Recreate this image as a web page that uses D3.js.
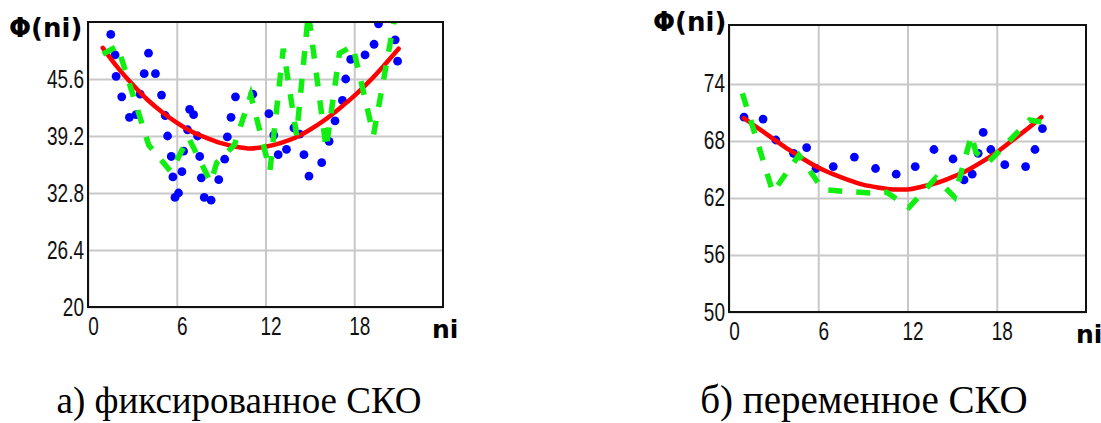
<!DOCTYPE html>
<html>
<head>
<meta charset="utf-8">
<script src="https://cdn.jsdelivr.net/npm/d3@7"></script>
<style>
  body { margin: 0; background: #fff; }
  .grid line { stroke: #c8c8c8; stroke-width: 2; }
  .grid path { display: none; }
  .ticks path { display: none; }
  .ticks text { font-family: "Liberation Sans", Arial, sans-serif; font-size: 25px; fill: #111; }
</style>
</head>
<body>
<div id="holder"></div>
<script>
// shared values
var xTicks = [0, 6, 12, 18];
var fitX = [1, 2, 3, 4, 5, 6, 7, 8, 9, 10, 11, 12, 13, 14, 15, 16, 17, 18, 19, 20, 21];

// a) fixed SKO
var leftYTicks = [20, 26.4, 32.8, 39.2, 45.6];
var leftFit = [49.1, 46.9, 45.0, 43.3, 41.9, 40.7, 39.7, 39.0, 38.4, 38.0, 37.8, 38.0, 38.4, 39.0, 39.9, 41.0, 42.3, 43.7, 45.3, 47.1, 49.0];
var leftDotsX = [1.54, 1.83, 1.90, 2.28, 2.80, 3.25, 3.53, 3.80, 4.09, 4.56, 4.97, 5.22, 5.38, 5.63, 5.74, 5.88, 6.12, 6.35, 6.46, 6.73,
                 6.87, 7.14, 7.41, 7.55, 7.66, 7.86, 8.32, 8.84, 9.24, 9.42, 9.67, 9.97, 11.14, 12.23, 12.56, 12.86, 13.42, 13.92, 14.31, 14.60,
                 14.94, 15.80, 16.30, 16.70, 17.20, 17.42, 17.76, 18.73, 19.34, 19.64, 20.77, 20.93];
var leftDotsY = [50.6, 48.3, 45.9, 43.6, 41.3, 41.6, 43.9, 46.2, 48.5, 46.2, 43.8, 41.5, 39.2, 36.9, 34.6, 32.3, 32.8, 35.2, 37.5, 39.9,
                 42.2, 41.6, 39.2, 36.9, 34.5, 32.3, 32.0, 34.3, 36.6, 39.1, 41.3, 43.6, 43.9, 41.7, 39.3, 37.1, 37.7, 40.1, 39.4, 37.1,
                 34.7, 36.2, 38.6, 40.9, 43.2, 45.6, 47.8, 48.3, 49.5, 51.8, 50.0, 47.6];
var leftNoiseX = [1.0, 2.0, 4.1, 5.6, 6.8, 8.3, 8.7, 9.9, 11.0, 12.3, 13.2, 14.1, 14.9, 16.1, 17.0, 17.9, 19.3, 20.8];
var leftNoiseY = [48.4, 49.3, 38.2, 35.2, 39.0, 34.0, 36.2, 38.2, 43.8, 35.3, 49.0, 39.3, 53.0, 37.8, 48.5, 49.3, 39.3, 53.0];

// b) variable SKO
var rightYTicks = [50, 56, 62, 68, 74];
var rightFit = [70.4, 69.3, 68.2, 67.1, 66.1, 65.2, 64.5, 63.9, 63.4, 63.1, 62.9, 62.9, 63.2, 63.6, 64.2, 64.9, 65.8, 66.8, 68.0, 69.2, 70.5];
var rightDotsX = [1.01, 2.29, 3.15, 4.34, 5.22, 5.85, 7.01, 8.43, 9.85, 11.24, 12.52, 13.78, 15.06, 15.80, 16.35, 16.75, 17.09, 17.60,
                  18.54, 19.94, 20.57, 21.07];
var rightDotsY = [70.5, 70.3, 68.1, 66.7, 67.3, 65.1, 65.3, 66.3, 65.1, 64.5, 65.3, 67.1, 66.1, 63.9, 64.5, 66.7, 68.9, 67.1,
                  65.5, 65.3, 67.1, 69.3];
var rightNoiseX = [0.9, 2.95, 4.7, 6.3, 7.7, 9.8, 10.6, 12.1, 13.9, 15.15, 16.3, 16.6, 17.4, 20.2, 21.0];
var rightNoiseY = [73.0, 62.6, 66.5, 62.9, 62.7, 62.5, 62.6, 61.0, 64.1, 62.1, 68.6, 66.8, 65.7, 70.2, 70.0];

var svg = d3.select("#holder").append("svg")
    .attr("width", 1101)
    .attr("height", 423)
    .style("display", "block");

function squeeze(sel) {
    // the tick font in the picture is narrow
    sel.each(function() {
        var w = this.getComputedTextLength();
        d3.select(this).attr("textLength", w * 0.76).attr("lengthAdjust", "spacingAndGlyphs");
    });
}

function drawChart(c) {
    var width = c.right - c.left,
        height = c.bottom - c.top;

    var g = svg.append("g")
        .attr("transform", "translate(" + c.left + "," + c.top + ")");

    var x = d3.scaleLinear().domain([0, 24]).range([0, width]);
    var y = d3.scaleLinear().domain(c.yDomain).range([height, 0]);

    // grid
    g.append("g")
        .attr("class", "grid")
        .call(d3.axisLeft(y).tickValues(c.yTicks).tickSize(-width).tickFormat(""));
    g.append("g")
        .attr("class", "grid")
        .attr("transform", "translate(0," + height + ")")
        .call(d3.axisBottom(x).tickValues(xTicks).tickSize(-height).tickFormat(""));

    // tick labels
    g.append("g")
        .attr("class", "ticks")
        .call(d3.axisLeft(y).tickValues(c.yTicks).tickSize(0).tickPadding(4).tickFormat(d3.format("")))
        .selectAll("text").call(squeeze);
    g.append("g")
        .attr("class", "ticks")
        .attr("transform", "translate(0," + height + ")")
        .call(d3.axisBottom(x).tickValues(xTicks).tickSize(0).tickPadding(10))
        .selectAll("text").attr("x", 5).call(squeeze);

    var clipId = "clip" + c.left;
    g.append("clipPath").attr("id", clipId)
        .append("rect").attr("width", width).attr("height", height);

    var plot = g.append("g").attr("clip-path", "url(#" + clipId + ")");

    // blue points
    plot.selectAll(".dot")
        .data(c.dotsX)
        .enter().append("circle")
        .attr("class", "dot")
        .attr("cx", function(d) { return x(d); })
        .attr("cy", function(d, i) { return y(c.dotsY[i]); })
        .attr("r", 4.4)
        .style("fill", "#0000ff");

    // red fitted curve
    var fitLine = d3.line()
        .x(function(d) { return x(d); })
        .y(function(d, i) { return y(c.fit[i]); })
        .curve(d3.curveMonotoneX);
    plot.append("path")
        .datum(fitX)
        .attr("d", fitLine)
        .style("fill", "none")
        .style("stroke", "#ff0000")
        .style("stroke-width", 4.5)
        .style("stroke-linecap", "round");

    // green dashed line
    var noiseLine = d3.line()
        .x(function(d) { return x(d); })
        .y(function(d, i) { return y(c.noiseY[i]); });
    plot.append("path")
        .datum(c.noiseX)
        .attr("d", noiseLine)
        .style("fill", "none")
        .style("stroke", "#11ee11")
        .style("stroke-width", 5.5)
        .style("stroke-dasharray", "14,14");

    // frame
    g.append("rect")
        .attr("width", width)
        .attr("height", height)
        .style("fill", "none")
        .style("stroke", "#111")
        .style("stroke-width", 2);

    // axis titles
    svg.append("text")
        .attr("x", c.yLabel[0]).attr("y", c.yLabel[1])
        .style("font-family", "'DejaVu Sans', sans-serif")
        .style("font-weight", "bold")
        .style("font-size", "26px")
        .text("Φ(ni)");
    svg.append("text")
        .attr("x", c.xLabel[0]).attr("y", c.xLabel[1])
        .style("font-family", "'DejaVu Sans', sans-serif")
        .style("font-weight", "bold")
        .style("font-size", "25px")
        .text("ni");

    // caption
    svg.append("text")
        .attr("x", c.caption[0]).attr("y", c.caption[1])
        .style("font-family", "'Liberation Serif', 'Times New Roman', serif")
        .style("font-size", c.caption[3] + "px")
        .style("text-anchor", "middle")
        .text(c.caption[2]);
}

drawChart({
    left: 88, right: 443, top: 22, bottom: 307,
    yDomain: [20, 52], yTicks: leftYTicks,
    fit: leftFit, dotsX: leftDotsX, dotsY: leftDotsY,
    noiseX: leftNoiseX, noiseY: leftNoiseY,
    yLabel: [9, 37], xLabel: [432, 338],
    caption: [239, 413, "а) фиксированное СКО", 37]
});

drawChart({
    left: 729, right: 1086, top: 25, bottom: 312,
    yDomain: [50, 80.2], yTicks: rightYTicks,
    fit: rightFit, dotsX: rightDotsX, dotsY: rightDotsY,
    noiseX: rightNoiseX, noiseY: rightNoiseY,
    yLabel: [653, 31], xLabel: [1076, 343],
    caption: [864, 413, "б) переменное СКО", 39]
});
</script>
</body>
</html>
